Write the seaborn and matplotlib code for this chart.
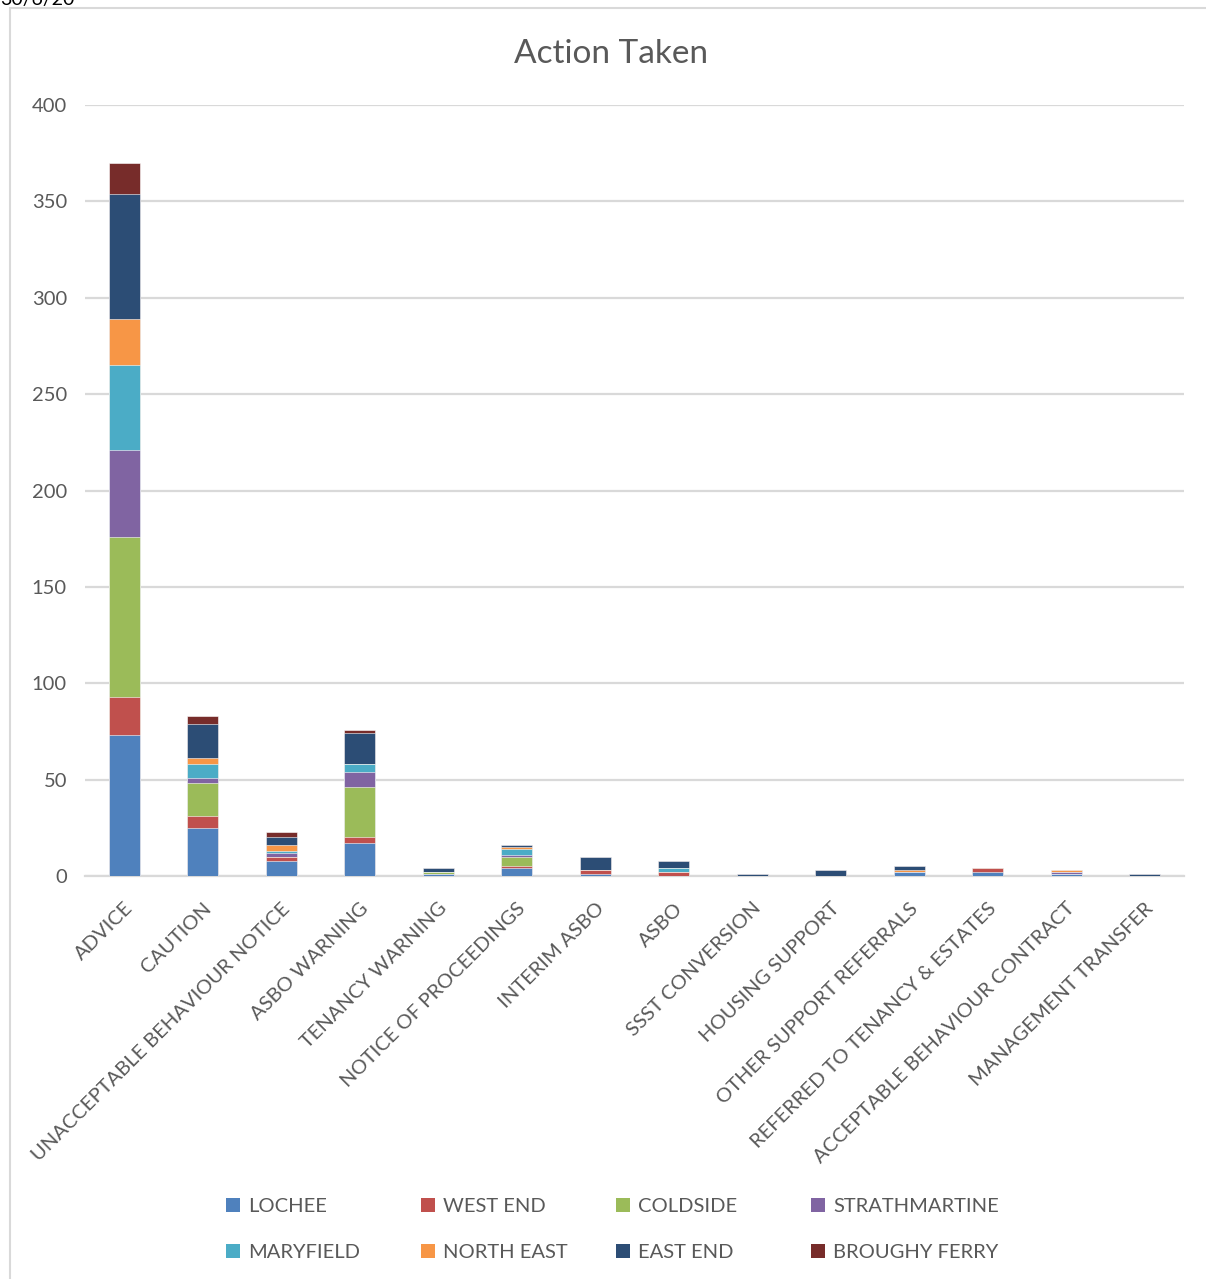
import numpy as np
import pandas as pd
import matplotlib
matplotlib.use("Agg")
import matplotlib.pyplot as plt
import matplotlib.patches as mpatches
import seaborn as sns

categories = ["ADVICE", "CAUTION", "UNACCEPTABLE BEHAVIOUR NOTICE", "ASBO WARNING",
              "TENANCY WARNING", "NOTICE OF PROCEEDINGS", "INTERIM ASBO", "ASBO",
              "SSST CONVERSION", "HOUSING SUPPORT", "OTHER SUPPORT REFERRALS",
              "REFERRED TO TENANCY & ESTATES", "ACCEPTABLE BEHAVIOUR CONTRACT",
              "MANAGEMENT TRANSFER"]

lochee        = [73, 25, 8, 17, 1, 4, 1, 0, 0, 0, 2, 2, 1, 0]
west_end      = [20, 6, 2, 3, 0, 1, 2, 2, 0, 0, 0, 2, 0, 0]
coldside      = [83, 17, 0, 26, 1, 5, 0, 0, 0, 0, 0, 0, 0, 0]
strathmartine = [45, 3, 2, 8, 0, 1, 0, 0, 0, 0, 0, 0, 1, 0]
maryfield     = [44, 7, 1, 4, 0, 3, 0, 2, 0, 0, 0, 0, 0, 0]
north_east    = [24, 3, 3, 0, 0, 1, 0, 0, 0, 0, 1, 0, 1, 0]
east_end      = [65, 18, 4, 16, 2, 1, 7, 4, 1, 3, 2, 0, 0, 1]
broughy_ferry = [16, 4, 3, 2, 0, 0, 0, 0, 0, 0, 0, 0, 0, 0]

series_names = ["LOCHEE", "WEST END", "COLDSIDE", "STRATHMARTINE",
                "MARYFIELD", "NORTH EAST", "EAST END", "BROUGHY FERRY"]
series_values = [lochee, west_end, coldside, strathmartine,
                 maryfield, north_east, east_end, broughy_ferry]
colors = ["#4F81BD", "#C0504D", "#9BBB59", "#8064A2",
          "#4BACC6", "#F79646", "#2C4D75", "#772C2A"]

sns.set_theme(style="white")
plt.rcParams["font.family"] = ["Lato", "DejaVu Sans"]
text_color = "#595959"

W, H = 1206, 1279
fig = plt.figure(figsize=(W / 100, H / 100), dpi=100)
ax = fig.add_axes([85 / W, 1 - 876 / H, (1184 - 85) / W, (876 - 105) / H])

vals = np.array(series_values, dtype=float)
cum = np.cumsum(vals, axis=0)
df = pd.DataFrame({"category": categories})
for i in range(len(series_names) - 1, -1, -1):
    df["v"] = cum[i]
    sns.barplot(data=df, x="category", y="v", order=categories, color=colors[i],
                saturation=1, width=0.395, ax=ax, edgecolor="#FFFFFF",
                linewidth=0.4, zorder=3)

ax.set_ylim(0, 400)
ax.set_xlim(-0.5, len(categories) - 0.5)
ax.set_yticks(np.arange(0, 401, 50))
ax.yaxis.grid(True, color="#D9D9D9", linewidth=1.6, zorder=0)
ax.xaxis.grid(False)
ax.set_axisbelow(True)
for s in ["top", "right", "left"]:
    ax.spines[s].set_visible(False)
ax.spines["bottom"].set_color("#D9D9D9")
ax.spines["bottom"].set_linewidth(1.6)
ax.set_xlabel("")
ax.set_ylabel("")
ax.tick_params(axis="y", length=0, pad=13, labelsize=14.5, labelcolor=text_color)
ax.tick_params(axis="x", length=0, pad=17, labelsize=14.5, labelcolor=text_color)
ax.set_xticks(range(len(categories)))
ax.set_xticklabels(categories, rotation=45, ha="right", rotation_mode="anchor")

fig.text(611 / W, 1 - 54 / H, "Action Taken", fontsize=24, color=text_color,
         ha="center", va="center")

# legend: 4 columns, 2 rows (row-wise order), columns at fixed positions
col_x = [226, 421, 616, 811]
for c in range(4):
    hs = [mpatches.Patch(facecolor=colors[c + 4 * r], edgecolor="none",
                         label=series_names[c + 4 * r]) for r in range(2)]
    fig.legend(handles=hs, loc="upper left",
               bbox_to_anchor=(col_x[c] / W, 1 - 1198 / H),
               ncol=1, frameon=False, fontsize=14.5, labelcolor=text_color,
               handlelength=0.7, handleheight=0.7, handletextpad=0.4,
               labelspacing=1.45, borderpad=0, borderaxespad=0)

fig.patches.append(mpatches.Rectangle((10 / W, -0.01), 1.05, 1 - 8 / H + 0.01,
                                      transform=fig.transFigure, fill=False,
                                      edgecolor="#D9D9D9", linewidth=1.5))
fig.text(0.0, 1.0, "30/6/20", fontsize=14, color="#000000", ha="left", va="center")

fig.savefig("out.png", dpi=100)
